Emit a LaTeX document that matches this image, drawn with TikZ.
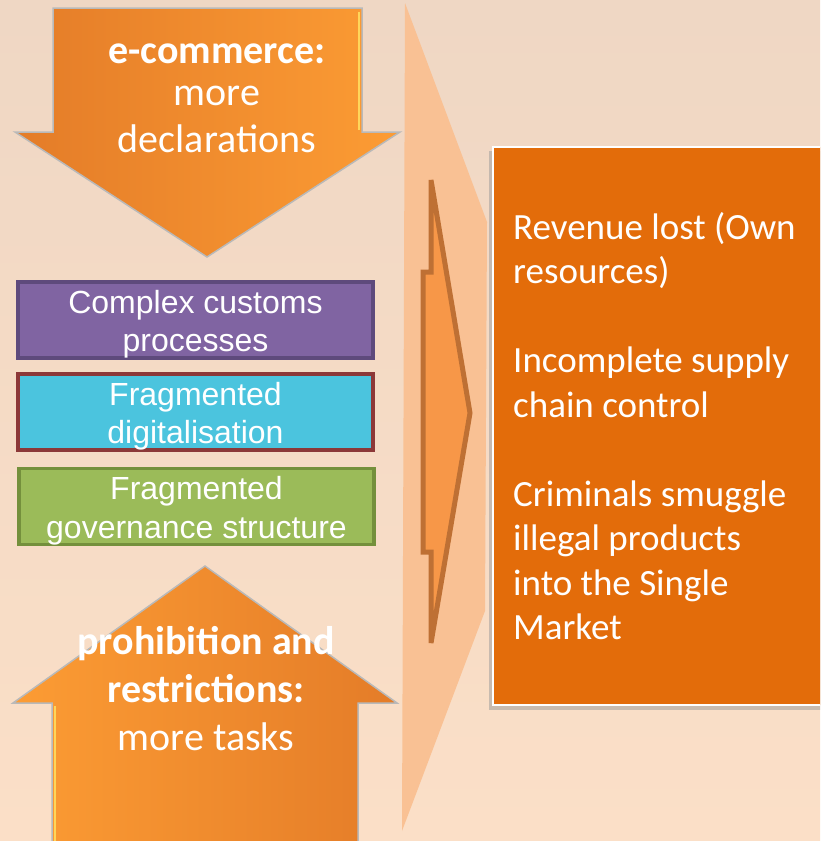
\documentclass[tikz,border=0pt]{standalone}
\usepackage{fontspec}
\setmainfont{Carlito}
\newfontfamily\arialfont{Liberation Sans}

\definecolor{bgtop}{RGB}{239,215,196}
\definecolor{bgbot}{RGB}{251,223,199}
\definecolor{veil}{RGB}{249,193,148}
\definecolor{arrowdark}{RGB}{228,124,40}
\definecolor{arrowlight}{RGB}{252,156,52}
\definecolor{bevel}{RGB}{255,214,90}
\definecolor{outfill}{RGB}{227,108,10}
\definecolor{chevfill}{RGB}{247,151,72}
\definecolor{chevline}{RGB}{190,112,52}
\definecolor{custfill}{RGB}{128,100,162}
\definecolor{custline}{RGB}{94,74,124}
\definecolor{digifill}{RGB}{75,196,222}
\definecolor{digiline}{RGB}{140,56,56}
\definecolor{govfill}{RGB}{155,187,89}
\definecolor{govline}{RGB}{116,144,60}

\tikzset{
	factor/.style={draw, line width=3.5pt, minimum width=355pt, minimum height=76pt, inner sep=0pt},
	factortext/.style={text=white, align=center, inner sep=0pt, font=\arialfont\fontsize{32}{38.5}\selectfont},
	bigtext/.style={text=white, align=center, inner sep=0pt, font=\fontsize{40}{47}\selectfont},
}

\begin{document}
\begin{tikzpicture}[x=1pt, y=-1pt]
		%%%%% START %%%%%
		\useasboundingbox (0,0) rectangle (820,841);
		\clip (0,0) rectangle (820,841);
		\shade[top color=bgtop, bottom color=bgbot] (0,0) rectangle (820,841);
		
		\fill[veil] (405,3) -- (487,222) -- (485,611) -- (402,831) -- cycle;
		\draw[chevline, fill=chevfill, line width=5pt] (431,180) -- (470,413) -- (431,643) -- (431,552) -- (423,552) -- (423,272) -- (431,272) -- cycle;
		
		\shadedraw[left color=arrowdark, right color=arrowlight, draw=gray!55, line width=1.5pt] (53,8) -- (362,8) -- (362,132) -- (400,132) -- (207,257) -- (15,132) -- (53,132) -- cycle;
		\draw[bevel, line width=2pt] (359,12) -- (359,130);
		\node[bigtext] (ecom) at (217,98) {\textbf{e-commerce:}\\[-5pt]more\\declarations};
		
		\node[factor, draw=custline, fill=custfill] (customs) at (195.5,320) {};
		\node[factor, draw=digiline, fill=digifill, line width=4pt] (digital) at (195.5,412) {};
		\node[factor, draw=govline, fill=govfill] (govern) at (196.5,506.5) {};
		\node[factortext] (customstext) at ([yshift=-4pt]customs.center) {Complex customs\\processes};
		\node[factortext] (digitaltext) at ([yshift=-4pt]digital.center) {Fragmented\\digitalisation};
		\node[factortext] (governtext) at ([yshift=-4pt]govern.center) {Fragmented\\governance structure};
		
		\shadedraw[left color=arrowlight, right color=arrowdark, draw=gray!55, line width=1.5pt] (52,850) -- (52,703) -- (13,703) -- (205,566) -- (397,703) -- (358,703) -- (358,850) -- cycle;
		\draw[bevel, line width=2pt] (55,706) -- (55,841);
		\node[bigtext, font=\fontsize{40}{48}\selectfont] (prohib) at (206,689) {\textbf{prohibition and}\\\textbf{restrictions:}\\more tasks};
		
		\fill[black!40, opacity=0.5] (489,151) rectangle (830,710);
		\draw[white, line width=2pt, fill=outfill] (493,147) rectangle (830,705);
		\node[text=white, align=left, anchor=north west, inner sep=0pt, font=\fontsize{37}{44.5}\selectfont] (effects) at (513,212) {Revenue lost (Own\\resources)\\[44.5pt]Incomplete supply\\chain control\\[44.5pt]Criminals smuggle\\illegal products\\into the Single\\Market};
		
		%%%%% END %%%%%
	\end{tikzpicture}
\end{document}
